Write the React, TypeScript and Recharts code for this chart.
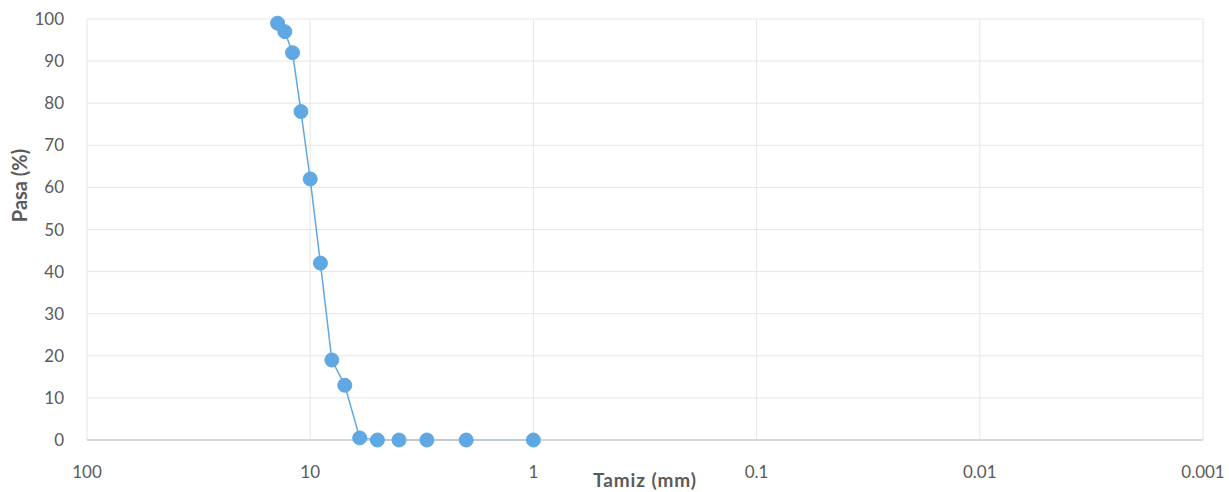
import React from 'react';
import { LineChart, Line, XAxis, YAxis, CartesianGrid, Label } from 'recharts';

const sieveSizes = [14, 13, 12, 11, 10, 9, 8, 7, 6, 5, 4, 3, 2, 1];
const passing = [99, 97, 92, 78, 62, 42, 19, 13, 0.5, 0, 0, 0, 0, 0];
const xTicks = [100, 10, 1, 0.1, 0.01, 0.001];
const yTicks = [0, 10, 20, 30, 40, 50, 60, 70, 80, 90, 100];

const data = sieveSizes.map((s, i) => ({ size: s, pass: passing[i] }));

const FONT = 'Lato, "Open Sans", sans-serif';
const TEXT = '#5a5a5a';
const BLUE = '#5fa8e3';

const YLabel = (props: any) => {
  const vb = props.viewBox || { x: 0, y: 0, width: 0, height: 0 };
  const cx = 19;
  const cy = vb.y + vb.height / 2 - 44;
  return (
    <text
      x={cx}
      y={cy}
      transform={`rotate(-90 ${cx} ${cy})`}
      textAnchor="middle"
      dominantBaseline="central"
      fontFamily={FONT}
      fontWeight={700}
      fontSize={20}
      fill={TEXT}
    >
      Pasa (%)
    </text>
  );
};

export default function App() {
  return (
    <div style={{ position: 'absolute', left: 0, top: 0, width: 1229, height: 492, background: '#fff' }}>
      <LineChart width={1229} height={492} data={data} margin={{ top: 19, right: 26, bottom: 0, left: 0 }}>
        <CartesianGrid stroke="#e6e6e6" strokeWidth={1} />
        <XAxis
          dataKey="size"
          type="number"
          scale="log"
          domain={[0.001, 100]}
          reversed
          ticks={xTicks}
          tickFormatter={(v: number) => String(v)}
          interval={0}
          allowDataOverflow
          height={52}
          axisLine={{ stroke: '#cfcfcf', strokeWidth: 1.5 }}
          tickLine={false}
          tickMargin={20}
          tick={{ fontFamily: FONT, fontSize: 17, fill: TEXT }}
        >
          <Label
            value="Tamiz (mm)"
            position="insideBottom"
            offset={5}
            style={{ fontFamily: FONT, fontWeight: 700, fontSize: 19, letterSpacing: 0.9, fill: TEXT }}
          />
        </XAxis>
        <YAxis
          type="number"
          domain={[0, 100]}
          ticks={yTicks}
          interval={0}
          width={87}
          axisLine={false}
          tickLine={false}
          tickMargin={17}
          tick={{ fontFamily: FONT, fontSize: 17, fill: TEXT }}
        >
          <Label content={<YLabel />} />
        </YAxis>
        <Line
          type="linear"
          dataKey="pass"
          stroke={BLUE}
          strokeWidth={1.5}
          dot={{ r: 7, fill: BLUE, stroke: BLUE, strokeWidth: 1 }}
          activeDot={false}
          isAnimationActive={false}
        />
      </LineChart>
    </div>
  );
}
